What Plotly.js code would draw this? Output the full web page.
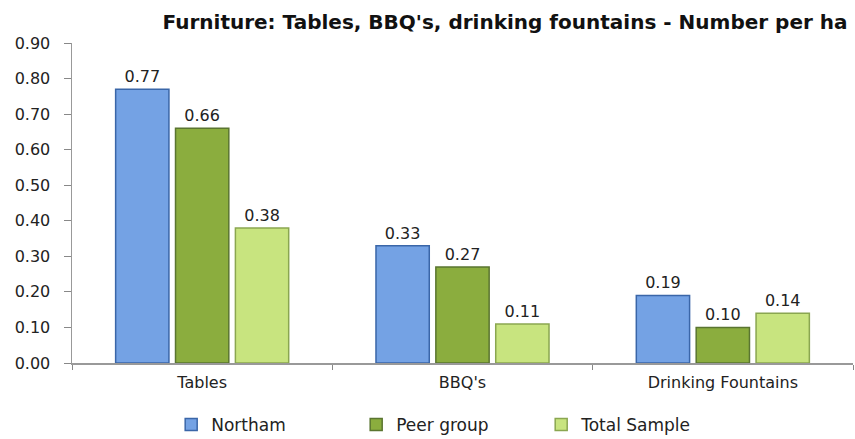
<!DOCTYPE html>
<html>
<head>
<meta charset="utf-8">
<script src="https://cdn.plot.ly/plotly-3.0.1.min.js"></script>
<style>html,body{margin:0;padding:0;background:#fff;}#chart{width:855px;height:439px;}</style>
</head>
<body>
<div id="chart"></div>
<script>
var categories = ["Tables", "BBQ's", "Drinking Fountains"];
var northam = [0.77, 0.33, 0.19];
var peerGroup = [0.66, 0.27, 0.10];
var totalSample = [0.38, 0.11, 0.14];
var seriesNames = ["Northam", "Peer group", "Total Sample"];
var tickVals = [0, 0.1, 0.2, 0.3, 0.4, 0.5, 0.6, 0.7, 0.8, 0.9];

var colors = ["#74a2e4", "#8bad3e", "#c8e47f"];
var edges = ["#3a66a8", "#5a7530", "#8aa650"];
var series = [northam, peerGroup, totalSample];
var fnt = "DejaVu Sans, Verdana, sans-serif";

var traces = series.map(function(vals, i){
  return {
    type: "bar",
    name: seriesNames[i],
    x: categories,
    y: vals,
    text: vals.map(function(v){return v.toFixed(2);}),
    textposition: "outside",
    cliponaxis: false,
    textfont: {family: fnt, size: 16, color: "#222"},
    marker: {color: colors[i], line: {color: edges[i], width: 1.5}}
  };
});

var layout = {
  width: 855, height: 439,
  margin: {l: 72, r: 2, t: 43, b: 76, autoexpand: false},
  paper_bgcolor: "#fff", plot_bgcolor: "#fff",
  title: {text: "<b>Furniture: Tables, BBQ's, drinking fountains - Number per ha</b>",
          font: {family: fnt, size: 20, color: "#111"},
          xref: "paper", x: 0.993, xanchor: "right",
          yref: "container", y: 0.95, yanchor: "middle"},
  barmode: "group",
  bargap: 0.31,
  bargroupgap: 0.11,
  showlegend: true,
  legend: {orientation: "h", xref: "paper", x: 0.127, xanchor: "left",
           yref: "container", y: 0.032, yanchor: "middle",
           entrywidth: 140, entrywidthmode: "pixels",
           font: {family: fnt, size: 17, color: "#222"},
           traceorder: "normal", itemwidth: 30},
  xaxis: {type: "category", tickson: "boundaries", ticks: "outside", ticklen: 5,
          tickcolor: "#888", showline: true, linecolor: "#999", linewidth: 1.5,
          tickfont: {family: fnt, size: 16, color: "#222"},
          ticklabelstandoff: 4,
          showgrid: false},
  yaxis: {range: [0, 0.9], tickvals: tickVals, tickformat: ".2f", ticks: "outside",
          ticklen: 7, tickcolor: "#888", showline: true, linecolor: "#999", linewidth: 1.5,
          showgrid: false, zeroline: false, ticklabelstandoff: 10,
          tickfont: {family: fnt, size: 16, color: "#222"}}
};

Plotly.newPlot("chart", traces, layout, {displayModeBar: false, staticPlot: true});
</script>
</body>
</html>
